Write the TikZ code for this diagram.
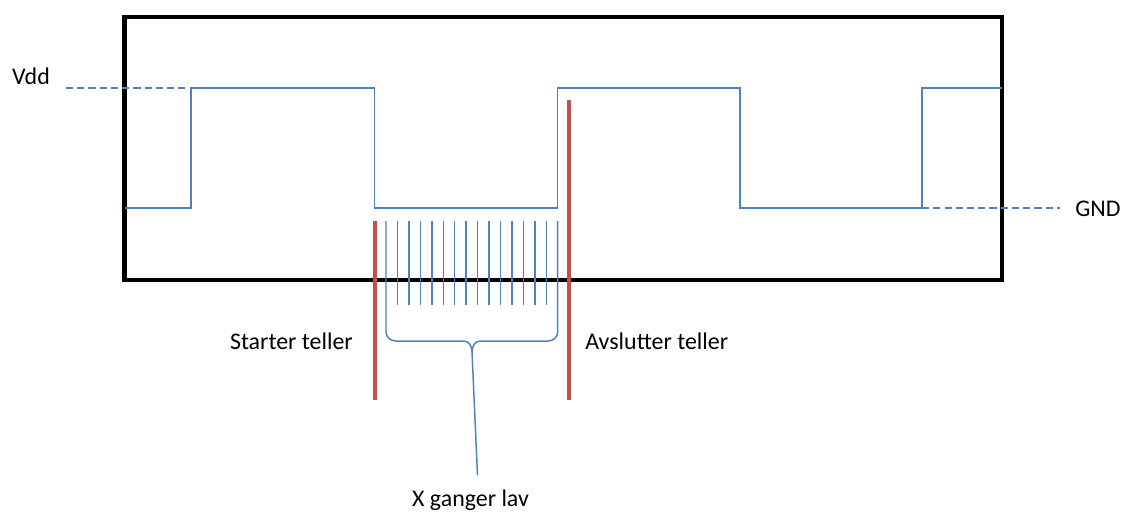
\documentclass[tikz,border=0pt]{standalone}
\usepackage{fontspec}
\setmainfont{Carlito}
\usepackage{tikz}
\usetikzlibrary{calc}
\definecolor{signalBlue}{RGB}{79, 129, 189}
\definecolor{markRed}{RGB}{192, 80, 77}

\tikzset{
  wave/.style={signalBlue, line width=1.05pt},
  level/.style={signalBlue, line width=1.05pt, dash pattern=on 5pt off 3pt},
  marker/.style={markRed, line width=2.8pt},
  lbl/.style={font=\fontsize{17}{20}\selectfont, inner sep=0pt, anchor=base}
}

\begin{document}
\begin{tikzpicture}[x=0.25cm, y=-0.25cm]
  \useasboundingbox (0,0) rectangle (112.6,51.1);

  % Scope frame
  \draw[line width=2.85pt] (12.45,1.65) rectangle (100.2,28.0);

  % Clock signal
  \draw[wave] (12.45,20.8) -- (19.1,20.8) -- (19.1,8.8) -- (37.45,8.8)
    -- (37.45,20.8) -- (55.75,20.8) -- (55.75,8.8) -- (74.0,8.8)
    -- (74.0,20.8) -- (92.2,20.8) -- (92.2,8.8) -- (100.2,8.8);

  % Supply levels
  \node[lbl] (vdd) at (3.1,8.4) {Vdd};
  \node[lbl] (gnd) at (109.8,21.65) {GND};
  \coordinate (vddend) at (6.6,8.8);
  \coordinate (gndend) at (106.0,20.8);
  \draw[level] (vddend) -- (19.1,8.8);
  \draw[level] (92.2,20.8) -- (gndend);

  % Counter pulses while low
  \foreach \i in {1,...,14}
    \draw[wave] ({38.6+\i*1.145},22.1) -- ({38.6+\i*1.145},30.5);

  % Brace collecting the pulses
  \coordinate (tip) at (47.2,35.2);
  \draw[wave] (38.6,22.1) -- (38.6,33.2) to[out=-90,in=180] (39.6,34.1)
    -- (46.4,34.1) to[out=0,in=90] (tip);
  \draw[wave] (55.77,22.1) -- (55.77,33.2) to[out=-90,in=0] (54.8,34.1)
    -- (48.0,34.1) to[out=180,in=90] (tip);
  \node[lbl] (count) at (47.05,50.6) {X ganger lav};
  \draw[wave] (tip) -- ($(count.north)+(0.7,-1.4)$);

  % Start and stop of the counter
  \node[lbl, anchor=base east] (start) at (35.3,34.9) {Starter teller};
  \node[lbl, anchor=base west] (stop) at (58.5,34.9) {Avslutter teller};
  \draw[marker] (37.5,22.1) -- (37.5,40.0);
  \draw[marker] (56.9,10.0) -- (56.9,40.0);
\end{tikzpicture}
\end{document}
